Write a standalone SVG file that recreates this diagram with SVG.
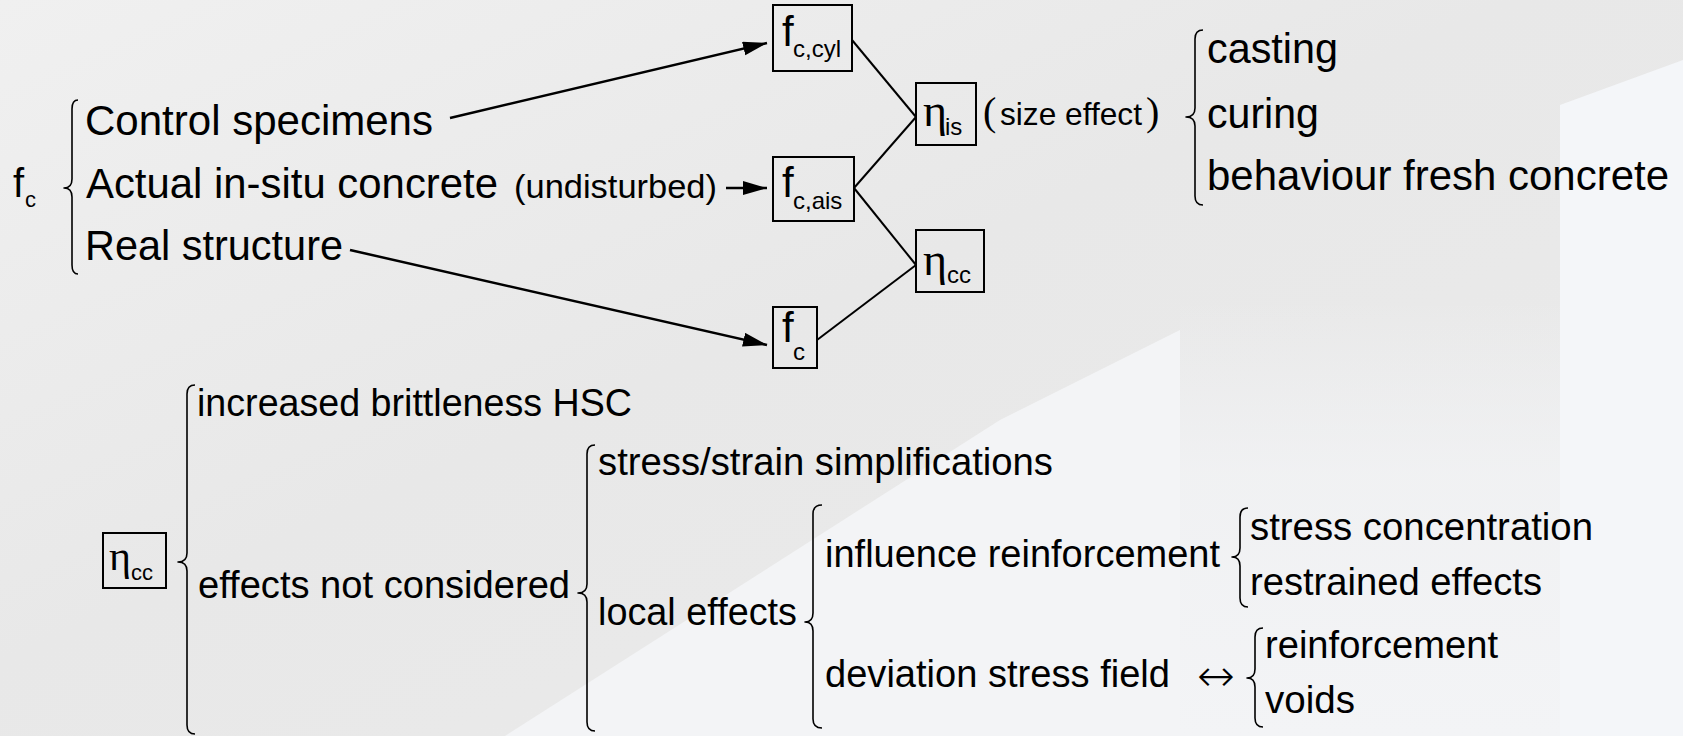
<svg xmlns="http://www.w3.org/2000/svg" width="1683" height="736" viewBox="0 0 1683 736">
<style>
.t{font-family:"Liberation Sans",Arial,sans-serif;fill:#000}
.g{font-family:"Liberation Serif","Times New Roman",serif;fill:#000}
.m{font-size:42px}
.b{font-size:38px}
.s{font-size:24px}
.box{fill:none;stroke:#000;stroke-width:2}
.br{fill:none;stroke:#000;stroke-width:1.6;stroke-linejoin:round}
.ar{fill:none;stroke:#000;stroke-width:2.5}
.ln{fill:none;stroke:#000;stroke-width:2}
</style>
<defs>
<linearGradient id="bg" x1="0" y1="0" x2="1" y2="1">
<stop offset="0" stop-color="#f0f0f0"/>
<stop offset="0.45" stop-color="#e8e8e8"/>
<stop offset="1" stop-color="#ebebeb"/>
</linearGradient>
<linearGradient id="fade" x1="0" y1="0" x2="0" y2="1">
<stop offset="0" stop-color="#f2f3f5" stop-opacity="0"/>
<stop offset="0.4" stop-color="#f2f3f5" stop-opacity="0.8"/>
<stop offset="1" stop-color="#f3f4f6" stop-opacity="1"/>
</linearGradient>
<marker id="ah" markerUnits="userSpaceOnUse" markerWidth="26" markerHeight="16" refX="24" refY="7" orient="auto">
<path d="M0,0 L24,7 L0,14 z" fill="#000"/>
</marker>
</defs>
<rect width="1683" height="736" fill="url(#bg)"/>
<polygon points="505,736 1000,420 1180,330 1180,736" fill="#f3f4f6"/>
<rect x="1180" y="300" width="380" height="436" fill="url(#fade)"/>
<polygon points="1560,105 1683,60 1683,736 1560,736" fill="#f4f6f9"/>

<g id="n-fc-root">
<text class="t" x="13" y="197" font-size="40">f</text>
<text class="t" x="25" y="207" font-size="22">c</text>
<path class="br" d="M78,100 Q72,100 72,109 L72,179 Q72,188 64,188 Q72,188 72,197 L72,265 Q72,274 78,274"/>
</g>
<g id="n-control"><text class="t m" x="85" y="135" textLength="348" lengthAdjust="spacingAndGlyphs">Control specimens</text></g>
<g id="n-actual">
<text class="t m" x="86" y="198" textLength="412" lengthAdjust="spacingAndGlyphs">Actual in-situ concrete</text>
<text class="t" x="514" y="198" font-size="33" textLength="203" lengthAdjust="spacingAndGlyphs">(undisturbed)</text>
</g>
<g id="n-real"><text class="t m" x="85" y="260" textLength="258" lengthAdjust="spacingAndGlyphs">Real structure</text></g>

<g id="n-fccyl">
<rect class="box" x="773" y="5" width="79" height="66"/>
<text class="t m" x="782" y="46">f</text>
<text class="t s" x="793" y="57">c,cyl</text>
</g>
<g id="n-fcais">
<rect class="box" x="773" y="157" width="81" height="64"/>
<text class="t m" x="782" y="197">f</text>
<text class="t s" x="793" y="209">c,ais</text>
</g>
<g id="n-fc">
<rect class="box" x="773" y="307" width="44" height="61"/>
<text class="t m" x="782" y="342">f</text>
<text class="t s" x="793" y="360">c</text>
</g>
<g id="n-etais">
<rect class="box" x="916" y="83" width="60" height="62"/>
<text class="g" x="923" y="126" font-size="46">η</text>
<text class="t s" x="945" y="135">is</text>
</g>
<g id="n-sizeeffect">
<text class="g" x="983" y="125" font-size="40">(</text>
<text class="t" x="1000" y="125" font-size="32" textLength="142" lengthAdjust="spacingAndGlyphs">size effect</text>
<text class="g" x="1146" y="125" font-size="40">)</text>
</g>
<g id="n-etacc">
<rect class="box" x="916" y="230" width="68" height="62"/>
<text class="g" x="923" y="275" font-size="46">η</text>
<text class="t s" x="947" y="283">cc</text>
</g>
<g id="n-causes">
<path class="br" d="M1203,30 Q1195,30 1195,39 L1195,108 Q1195,117 1186,117 Q1195,117 1195,126 L1195,196 Q1195,205 1203,205"/>
<text class="t m" x="1207" y="63" textLength="131" lengthAdjust="spacingAndGlyphs">casting</text>
<text class="t m" x="1207" y="128" textLength="112" lengthAdjust="spacingAndGlyphs">curing</text>
<text class="t m" x="1207" y="190" textLength="462" lengthAdjust="spacingAndGlyphs">behaviour fresh concrete</text>
</g>

<g id="n-etacc-2">
<rect class="box" x="103" y="533" width="63" height="55"/>
<text class="g" x="109" y="570" font-size="42">η</text>
<text class="t" x="131" y="580" font-size="22">cc</text>
<path class="br" d="M195,385 Q187,385 187,394 L187,553 Q187,562 178,562 Q187,562 187,571 L187,725 Q187,734 195,734"/>
</g>
<g id="n-brittle"><text class="t b" x="197" y="416" textLength="435" lengthAdjust="spacingAndGlyphs">increased brittleness HSC</text></g>
<g id="n-notconsidered">
<text class="t b" x="198" y="598" textLength="372" lengthAdjust="spacingAndGlyphs">effects not considered</text>
<path class="br" d="M595,445 Q587,445 587,454 L587,584 Q587,593 578,593 Q587,593 587,602 L587,722 Q587,731 595,731"/>
</g>
<g id="n-simpl"><text class="t b" x="598" y="475" textLength="455" lengthAdjust="spacingAndGlyphs">stress/strain simplifications</text></g>
<g id="n-local">
<text class="t b" x="598" y="625" textLength="199" lengthAdjust="spacingAndGlyphs">local effects</text>
<path class="br" d="M822,505 Q813,505 813,514 L813,613 Q813,622 805,622 Q813,622 813,631 L813,719 Q813,728 822,728"/>
</g>
<g id="n-influence">
<text class="t b" x="825" y="567" textLength="395" lengthAdjust="spacingAndGlyphs">influence reinforcement</text>
<path class="br" d="M1248,508 Q1240,508 1240,517 L1240,548 Q1240,557 1232,557 Q1240,557 1240,566 L1240,598 Q1240,607 1248,607"/>
<text class="t b" x="1250" y="540" textLength="343" lengthAdjust="spacingAndGlyphs">stress concentration</text>
<text class="t b" x="1250" y="595" textLength="292" lengthAdjust="spacingAndGlyphs">restrained effects</text>
</g>
<g id="n-deviation">
<text class="t b" x="825" y="687" textLength="345" lengthAdjust="spacingAndGlyphs">deviation stress field</text>
<text x="1197" y="691" font-family="DejaVu Sans, sans-serif" font-size="44" font-weight="300" textLength="38" lengthAdjust="spacingAndGlyphs">↔</text>
<path class="br" d="M1263,628 Q1255,628 1255,637 L1255,669 Q1255,678 1247,678 Q1255,678 1255,687 L1255,718 Q1255,727 1263,727"/>
<text class="t b" x="1265" y="658" textLength="233" lengthAdjust="spacingAndGlyphs">reinforcement</text>
<text class="t b" x="1265" y="713" textLength="90" lengthAdjust="spacingAndGlyphs">voids</text>
</g>

<g id="connectors">
<line class="ar" x1="450" y1="118" x2="767" y2="43" marker-end="url(#ah)"/>
<line class="ar" x1="726" y1="188" x2="767" y2="188" marker-end="url(#ah)"/>
<line class="ar" x1="350" y1="250" x2="767" y2="345" marker-end="url(#ah)"/>
<line class="ln" x1="852" y1="40" x2="916" y2="117"/>
<line class="ln" x1="854" y1="188" x2="916" y2="117"/>
<line class="ln" x1="854" y1="188" x2="916" y2="265"/>
<line class="ln" x1="817" y1="340" x2="916" y2="265"/>
</g>
</svg>
